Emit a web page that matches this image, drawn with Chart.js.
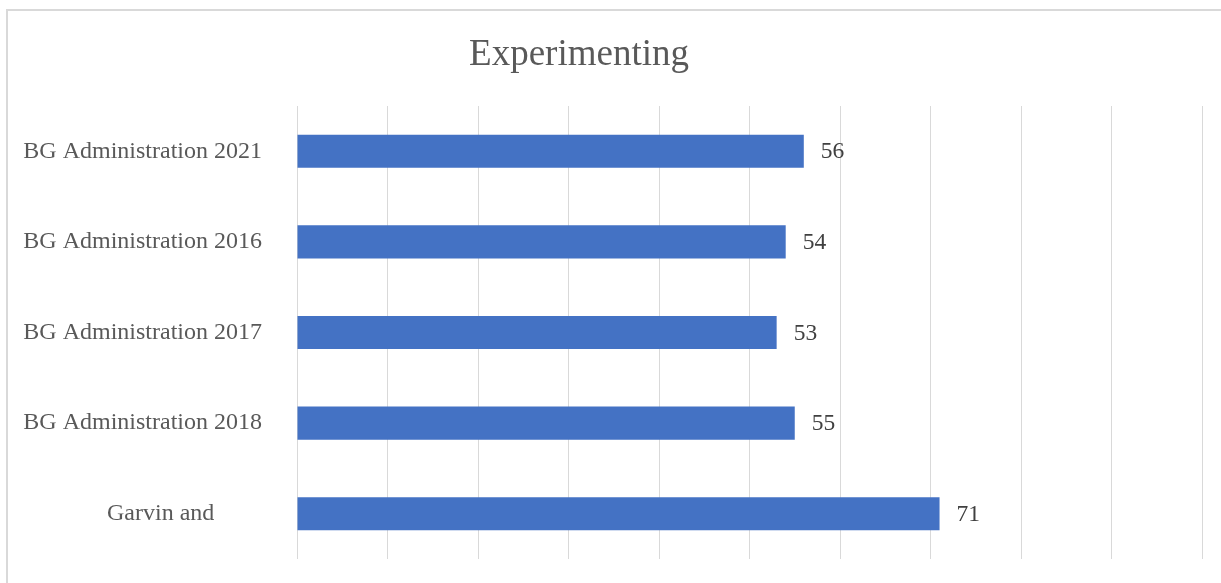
<!DOCTYPE html>
<html>
<head>
<meta charset="utf-8">
<script src="https://cdn.jsdelivr.net/npm/chart.js@4.4.1/dist/chart.umd.min.js"></script>
<style>
  html, body { margin: 0; padding: 0; background: #fff; overflow: hidden; }
  #wrap { position: relative; width: 1221px; height: 583px; }
  #frame {
    position: absolute; left: 6px; top: 9px; width: 1400px; height: 800px;
    border: 2px solid #d9d9d9; box-sizing: border-box;
  }
  canvas { position: absolute; left: 0; top: 0; }
</style>
</head>
<body>
<div id="wrap">
  <div id="frame"></div>
  <canvas id="chart" width="1221" height="583"></canvas>
</div>
<script>
// **********************************************
// Data

const chartTitle = 'Experimenting';
const categories = [
    'BG Administration 2021',
    'BG Administration 2016',
    'BG Administration 2017',
    'BG Administration 2018',
    '      Garvin and'
];
const values = [56, 54, 53, 55, 71];

const axisMin = 0;
const axisMax = 100;
const axisStep = 10;


// **********************************************
// Plugins

// title drawn a bit left of centre, like the original
const titlePlugin = {
    id: 'fixedTitle',
    afterDraw(chart) {
        const ctx = chart.ctx;
        ctx.save();
        ctx.font = '37px "Liberation Serif", "Times New Roman", serif';
        ctx.fillStyle = '#595959';
        ctx.textAlign = 'center';
        ctx.textBaseline = 'alphabetic';
        ctx.fillText(chartTitle, 579, 65);
        ctx.restore();
    }
};

// value labels at the end of each bar
const valueLabels = {
    id: 'valueLabels',
    afterDatasetsDraw(chart) {
        const ctx = chart.ctx;
        const meta = chart.getDatasetMeta(0);
        ctx.save();
        ctx.font = '23.5px "Liberation Serif", "Times New Roman", serif';
        ctx.fillStyle = '#404040';
        ctx.textAlign = 'left';
        ctx.textBaseline = 'middle';
        meta.data.forEach((bar, i) => {
            ctx.fillText(String(values[i]), bar.x + 17, bar.y + 1);
        });
        ctx.restore();
    }
};


// **********************************************
// Chart

let ctx = document.getElementById('chart').getContext('2d');

let chart = new Chart(ctx, {
    type: 'bar',
    data: {
        labels: categories,
        datasets: [{
            data: values,
            backgroundColor: '#4472c4',
            borderWidth: 0,
            barPercentage: 0.365,
            categoryPercentage: 1
        }]
    },
    options: {
        indexAxis: 'y',
        responsive: false,
        animation: false,
        layout: {
            padding: { top: 106, bottom: 24, right: 19, left: 7 }
        },
        plugins: {
            legend: { display: false },
            title: { display: false },
            tooltip: { enabled: false }
        },
        scales: {
            x: {
                min: axisMin,
                max: axisMax,
                ticks: { display: false, stepSize: axisStep },
                grid: { color: '#d9d9d9', lineWidth: 1, drawTicks: false },
                border: { display: false },
                afterFit(scale) {
                    scale.height = 0;
                }
            },
            y: {
                grid: { display: false, drawTicks: false },
                border: { display: false },
                ticks: {
                    crossAlign: 'center',
                    padding: 35,
                    color: '#595959',
                    font: { family: '"Liberation Serif", "Times New Roman", serif', size: 24 }
                },
                afterFit(scale) {
                    scale.width = 290;
                    // the tick padding is only meant to push labels left
                    scale.paddingTop = 0;
                    scale.paddingBottom = 0;
                }
            }
        }
    },
    plugins: [titlePlugin, valueLabels]
});
</script>
</body>
</html>
